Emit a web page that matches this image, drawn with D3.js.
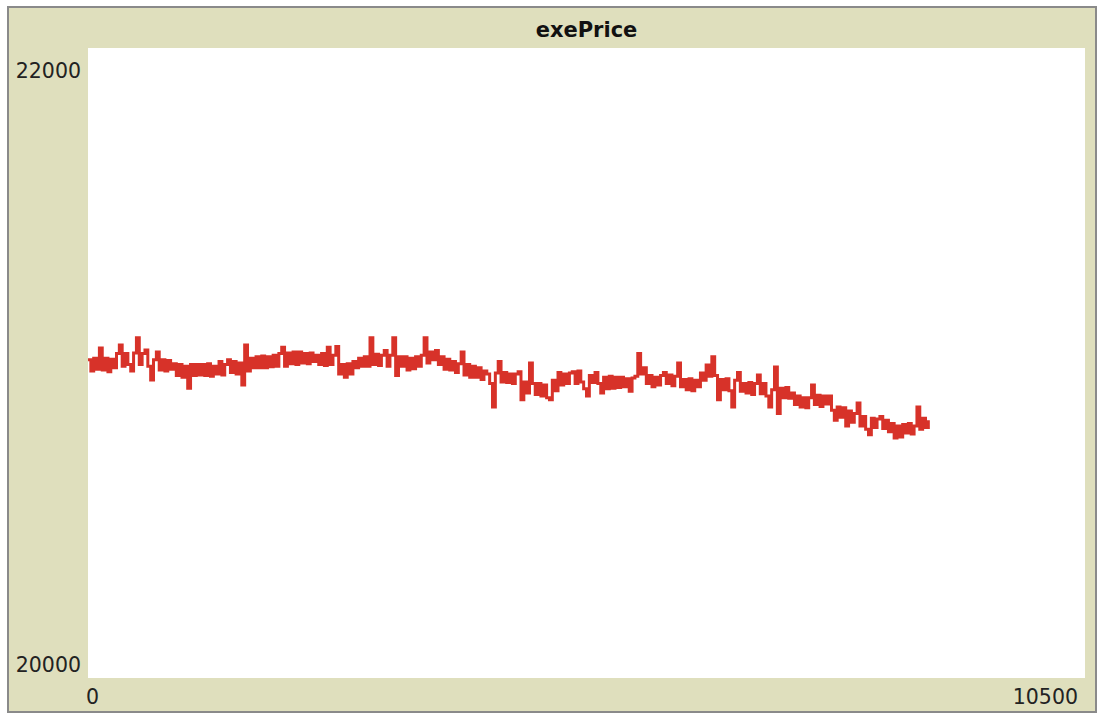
<!DOCTYPE html>
<html>
<head>
<meta charset="utf-8">
<script src="https://cdn.jsdelivr.net/npm/d3@7"></script>
<style>
  html, body { margin: 0; padding: 0; background: #ffffff; }
  svg { display: block; }
</style>
</head>
<body>
<svg id="chart" width="1097" height="715"></svg>
<script>
// Plot settings
const plotTitle = "exePrice";
const xDomain = [0, 10500];
const yDomain = [20000, 22000];
const xTickLabels = ["0", "10500"];
const yTickLabels = ["20000", "22000"];
const tickStep = 30; // ticks between recorded samples

// Recorded execution price, one sample every tickStep ticks
const exePrice = [
  21010, 20975, 21015, 20980, 21048, 20978, 21015, 20972, 21012, 20985,
  21030, 21057, 20990, 21030, 20995, 20975, 21032, 21080, 20995, 21030,
  21041, 20990, 20946, 21010, 21035, 20978, 21010, 20975, 21008, 20980,
  20998, 20960, 20995, 20955, 20990, 20920, 20995, 20960, 20995, 20962,
  20995, 20960, 20998, 20958, 20990, 20965, 21005, 20962, 20995, 21010,
  20970, 21005, 20965, 21000, 20930, 21057, 20975, 21015, 20985, 21020,
  20985, 21022, 20985, 21020, 20988, 21025, 20990, 21030, 21050, 20990,
  21032, 20998, 21035, 20995, 21035, 21000, 21030, 20998, 21032, 21005,
  21025, 20995, 21030, 20992, 21050, 20995, 21025, 21052, 20965, 20995,
  20955, 20998, 20965, 21005, 20985, 21015, 20990, 21020, 20990, 21080,
  20995, 21028, 20992, 21025, 21040, 20990, 21025, 21080, 20960, 21020,
  20990, 21020, 20978, 21015, 20982, 21020, 20990, 21025, 21080, 21000,
  21035, 21010, 21040, 20995, 21020, 20980, 21012, 20978, 21005, 20970,
  20998, 21035, 20962, 20995, 20955, 20990, 20955, 20985, 20948, 20975,
  20965, 20935, 20860, 20968, 21005, 20940, 20970, 20938, 20965, 20935,
  20965, 20972, 20883, 20940, 20905, 21000, 20935, 20900, 20935, 20895,
  20930, 20890, 20883, 20945, 20912, 20970, 20930, 20965, 20935, 20968,
  20972, 20935, 20975, 20940, 20918, 20895, 20960, 20938, 20970, 20935,
  20905, 20955, 20918, 20958, 20920, 20955, 20922, 20955, 20925, 20950,
  20910, 20952, 20958, 21030, 20965, 20985, 20935, 20960, 20925, 20955,
  20930, 20960, 20970, 20935, 20962, 20928, 20958, 21000, 20925, 20948,
  20915, 20950, 20912, 20945, 20925, 20968, 20945, 20994, 20958, 21020,
  20960, 20883, 20948, 20915, 20950, 20912, 20860, 20945, 20970, 20910,
  20935, 20905, 20938, 20900, 20935, 20962, 20902, 20935, 20895, 20860,
  20915, 20987, 20840, 20920, 20890, 20922, 20888, 20905, 20868, 20895,
  20860, 20890, 20858, 20890, 20930, 20868, 20898, 20862, 20895, 20870,
  20895, 20850, 20818, 20860, 20828, 20858, 20800, 20848, 20812, 20840,
  20873, 20800, 20830, 20790, 20772, 20825, 20795, 20822, 20830, 20792,
  20818, 20782, 20808, 20762, 20800, 20765, 20805, 20778, 20808, 20775,
  20800, 20860, 20790, 20825, 20795, 20818
];

const svg = d3.select("#chart");
const frame = { x: 8, y: 7, w: 1088, h: 705 };
const plot = { left: 88, top: 48, right: 1085, bottom: 678 };

const khaki = "#dfdfbd";
const penColor = "rgb(215,50,41)";
const font = "'DejaVu Sans', Verdana, sans-serif";

// Outer widget frame
svg.append("rect")
  .attr("x", frame.x).attr("y", frame.y)
  .attr("width", frame.w).attr("height", frame.h)
  .attr("fill", khaki)
  .attr("stroke", "#8a8a8a")
  .attr("stroke-width", 2);

// White plotting area
svg.append("rect")
  .attr("x", plot.left).attr("y", plot.top)
  .attr("width", plot.right - plot.left)
  .attr("height", plot.bottom - plot.top)
  .attr("fill", "#ffffff");

const x = d3.scaleLinear().domain(xDomain).range([plot.left, plot.right]);
const y = d3.scaleLinear().domain(yDomain).range([plot.bottom, plot.top]);

// Title
svg.append("text")
  .attr("x", (plot.left + plot.right) / 2)
  .attr("y", 37)
  .attr("text-anchor", "middle")
  .attr("font-family", font)
  .attr("font-weight", "bold")
  .attr("font-size", 21)
  .attr("fill", "#111")
  .text(plotTitle);

// Y range labels (max at top, min at bottom)
const labelStyle = sel => sel
  .attr("font-family", font).attr("font-size", 20.5).attr("fill", "#222");

svg.append("text")
  .attr("x", 81).attr("y", 78)
  .attr("text-anchor", "end")
  .call(labelStyle)
  .text(yTickLabels[1]);
svg.append("text")
  .attr("x", 81).attr("y", 672)
  .attr("text-anchor", "end")
  .call(labelStyle)
  .text(yTickLabels[0]);

// X range labels
svg.append("text")
  .attr("x", x(xDomain[0]) - 2).attr("y", 704)
  .attr("text-anchor", "start")
  .call(labelStyle)
  .text(xTickLabels[0]);
svg.append("text")
  .attr("x", x(xDomain[1]) - 7).attr("y", 704)
  .attr("text-anchor", "end")
  .call(labelStyle)
  .text(xTickLabels[1]);

// Price pen: dense step trace, one vertical stroke per sample
const line = d3.line()
  .x((d, i) => x(i * tickStep))
  .y(d => y(d))
  .curve(d3.curveStepAfter);

svg.append("path")
  .datum(exePrice)
  .attr("d", line)
  .attr("fill", "none")
  .attr("stroke", penColor)
  .attr("stroke-width", 3)
  .attr("stroke-linejoin", "miter");
</script>
</body>
</html>
